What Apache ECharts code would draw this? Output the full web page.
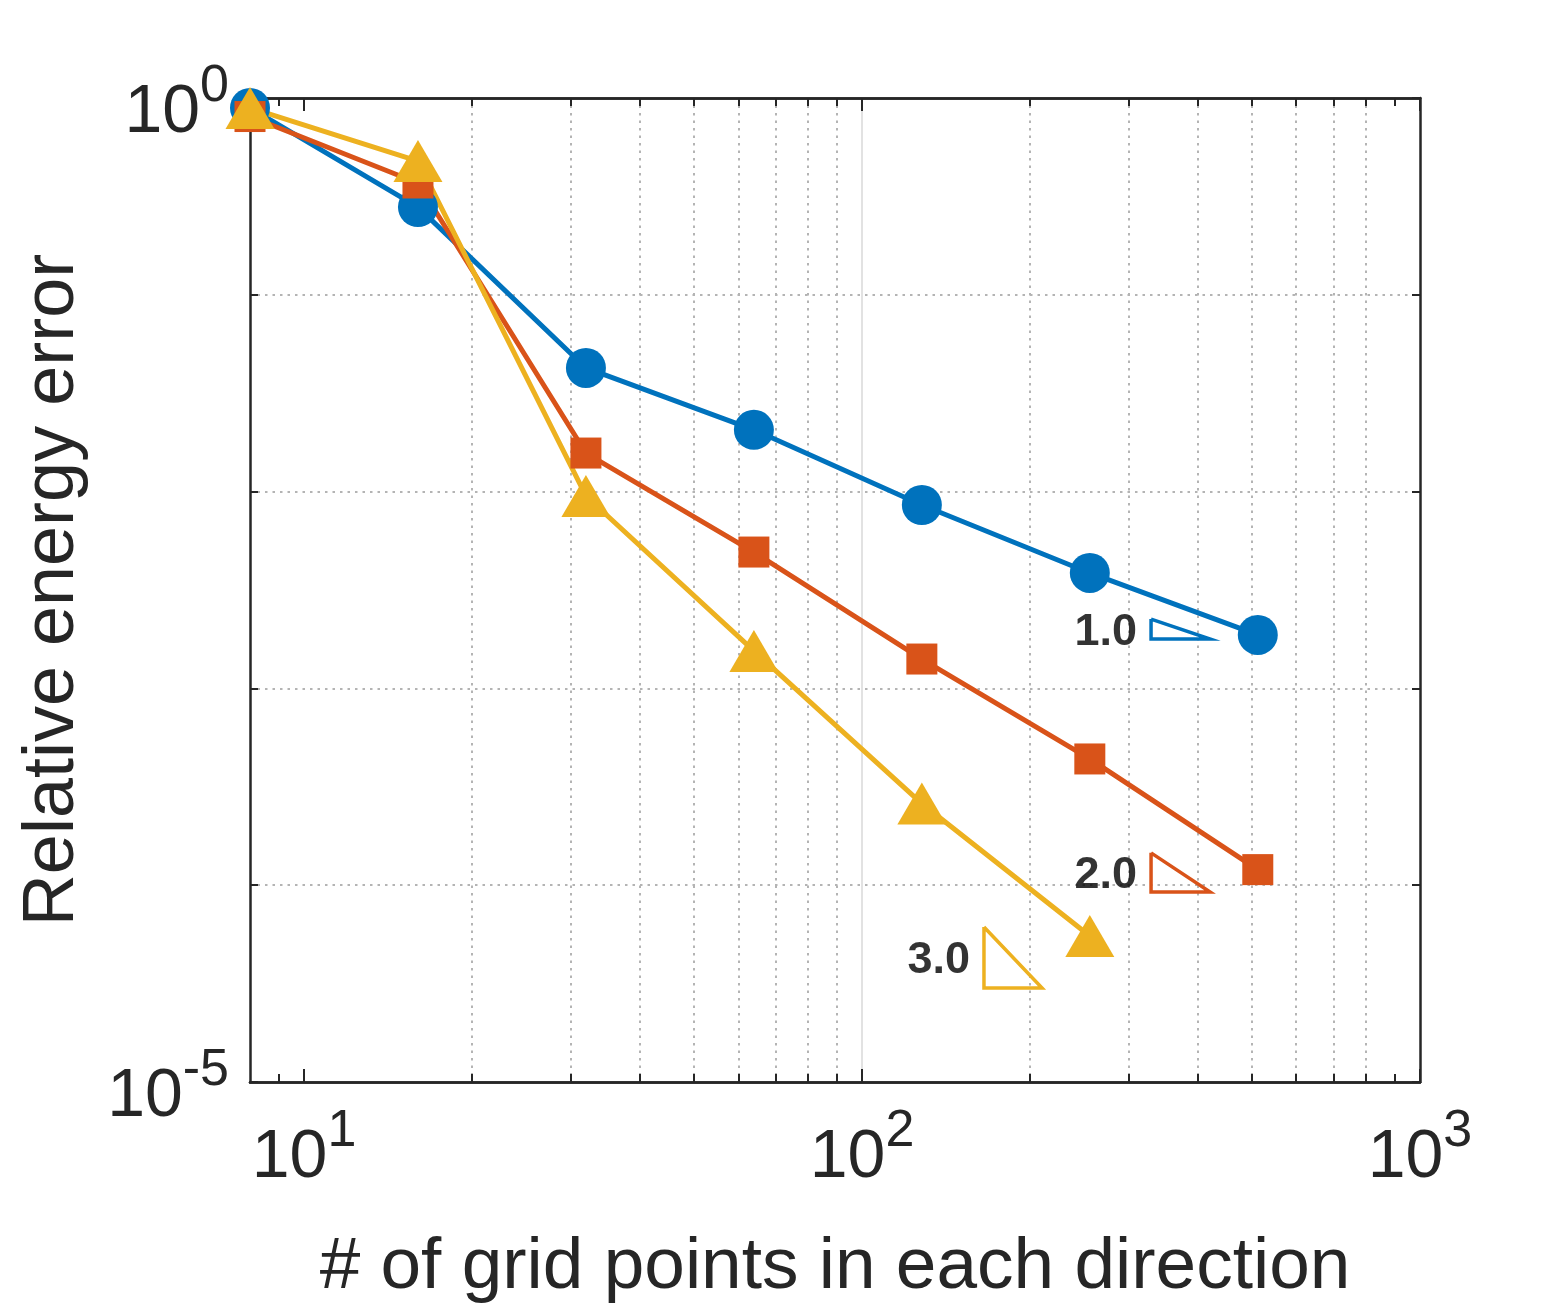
<!DOCTYPE html>
<html>
<head>
<meta charset="utf-8">
<title>Relative energy error</title>
<script src="https://cdn.jsdelivr.net/npm/echarts@6/dist/echarts.min.js"></script>
<style>
  html, body { margin: 0; padding: 0; background: #fff; }
  #chart { width: 1567px; height: 1304px; }
</style>
</head>
<body>
<div id="chart"></div>
<script>
// grid points per direction and relative energy error for each method
const gridPoints = [8, 16, 32, 64, 128, 256, 512]
const errCircle = [0.89, 0.279, 0.0425, 0.0206, 0.00855, 0.00386, 0.00187]
const errSquare = [0.805, 0.37, 0.0157, 0.00493, 0.00141, 0.000438, 0.00012]
const errTriangle = [0.89, 0.478, 0.0095, 0.00155, 0.00026, 0.0000552]

// slope triangles (blue, orange, yellow)
const slopeLabels = ['1.0', '2.0', '3.0']
const slopeXLeft = [329.6, 329.6, 165.4]
const slopeXRight = [420.6, 420.6, 210.2]
const slopeYTop = [0.00225, 0.000146, 0.0000613]
const slopeYBottom = [0.00178, 0.0000923, 0.00003]

// axis ticks (decades)
const xMajorTicks = [10, 100, 1000]
const xMinorTicks = [9, 20, 30, 40, 50, 60, 70, 80, 90, 200, 300, 400, 500, 600, 700, 800, 900]
const yLabelTicks = [1, 0.00001]

const colors = ['#0072BD', '#D95319', '#EDB120']
const font = 'Liberation Sans, Arial, Helvetica, sans-serif'
const axisColor = '#262626'
const lg = Math.log10

const xMin = lg(8)
const xMax = 3

const chart = echarts.init(document.getElementById('chart'))

function powLabel(v) {
  return '{b|10}{s|' + Math.round(v) + '}'
}

const xRich = {
  b: { fontSize: 68, lineHeight: 68, padding: [19, 0, 0, 0], fontFamily: font, color: axisColor },
  s: { fontSize: 52, lineHeight: 52, padding: [0, 0, 35, 0], fontFamily: font, color: axisColor }
}
const yRich = {
  b: { fontSize: 68, lineHeight: 68, padding: [31, 0, 0, 0], fontFamily: font, color: axisColor },
  s: { fontSize: 52, lineHeight: 52, padding: [12, 0, 35, 0], fontFamily: font, color: axisColor }
}

const dotted = { color: '#b4b4b4', width: 2, type: [2.5, 5] }

function xAxisOf(position, ticks, len, extra) {
  return Object.assign({
    type: 'value',
    position: position,
    min: xMin,
    max: xMax,
    axisLine: { show: true, onZero: false, lineStyle: { color: axisColor, width: 2.5 } },
    axisTick: { show: true, inside: true, length: len, customValues: ticks.map(lg), lineStyle: { color: axisColor, width: 2 } },
    axisLabel: { show: false },
    splitLine: { show: false }
  }, extra || {})
}

function yAxisOf(position, extra) {
  return Object.assign({
    type: 'value',
    position: position,
    min: -5,
    max: 0,
    interval: 1,
    axisLine: { show: true, onZero: false, lineStyle: { color: axisColor, width: 2.5 } },
    axisTick: { show: true, inside: true, length: 8, lineStyle: { color: axisColor, width: 2 } },
    axisLabel: { show: false },
    splitLine: { show: false }
  }, extra || {})
}

const series = []
;[errCircle, errSquare, errTriangle].forEach(function (errs, i) {
  series.push({
    type: 'line',
    xAxisIndex: 0,
    yAxisIndex: 0,
    z: 3,
    data: errs.map(function (e, j) { return [lg(gridPoints[j]), lg(e)] }),
    symbol: ['circle', 'rect', 'triangle'][i],
    symbolSize: [40, 31, [49, 42]][i],
    showAllSymbol: true,
    lineStyle: { color: colors[i], width: 5 },
    itemStyle: { color: colors[i], opacity: 1 },
    emphasis: { disabled: true }
  })
})

slopeLabels.forEach(function (lab, i) {
  const x0 = lg(slopeXLeft[i]), x1 = lg(slopeXRight[i])
  const yt = lg(slopeYTop[i]), yb = lg(slopeYBottom[i])
  series.push({
    type: 'line',
    z: 4,
    data: [[x0, yt], [x0, yb], [x1, yb], [x0, yt]],
    symbol: 'none',
    lineStyle: { color: colors[i], width: 3.5, join: 'miter' },
    emphasis: { disabled: true }
  })
  series.push({
    type: 'scatter',
    z: 4,
    data: [[x0, (yt + yb) / 2]],
    symbolSize: 0,
    label: {
      show: true,
      position: 'left',
      distance: 14,
      offset: [0, 3],
      formatter: lab,
      fontFamily: font,
      fontSize: 45,
      fontWeight: 'bold',
      color: '#000'
    },
    emphasis: { disabled: true }
  })
})

chart.setOption({
  animation: false,
  backgroundColor: '#fff',
  grid: { left: 250, top: 98, right: 147, bottom: 222, outerBoundsMode: 'none' },
  xAxis: [
    xAxisOf('bottom', xMajorTicks, 13, {
      name: '# of grid points in each direction',
      nameLocation: 'middle',
      nameGap: 149,
      nameTextStyle: { fontFamily: font, fontSize: 73, color: axisColor },
      axisLabel: {
        show: true,
        margin: 33,
        customValues: xMajorTicks.map(lg),
        formatter: powLabel,
        rich: xRich
      },
      splitLine: { show: true, showMinLine: false, showMaxLine: false, lineStyle: { color: '#e2e2e2', width: 2 } }
    }),
    xAxisOf('bottom', xMinorTicks, 8, {
      splitLine: { show: true, showMinLine: false, showMaxLine: false, lineStyle: dotted }
    }),
    xAxisOf('top', xMajorTicks, 13),
    xAxisOf('top', xMinorTicks, 8)
  ],
  yAxis: [
    yAxisOf('left', {
      name: 'Relative energy error',
      nameLocation: 'middle',
      nameRotate: 90,
      nameGap: 161,
      nameTextStyle: { fontFamily: font, fontSize: 72, color: axisColor },
      axisLabel: {
        show: true,
        margin: 21,
        customValues: yLabelTicks.map(lg),
        formatter: powLabel,
        rich: yRich
      },
      splitLine: { show: true, showMinLine: false, showMaxLine: false, lineStyle: dotted }
    }),
    yAxisOf('right')
  ],
  series: series
})
</script>
</body>
</html>
